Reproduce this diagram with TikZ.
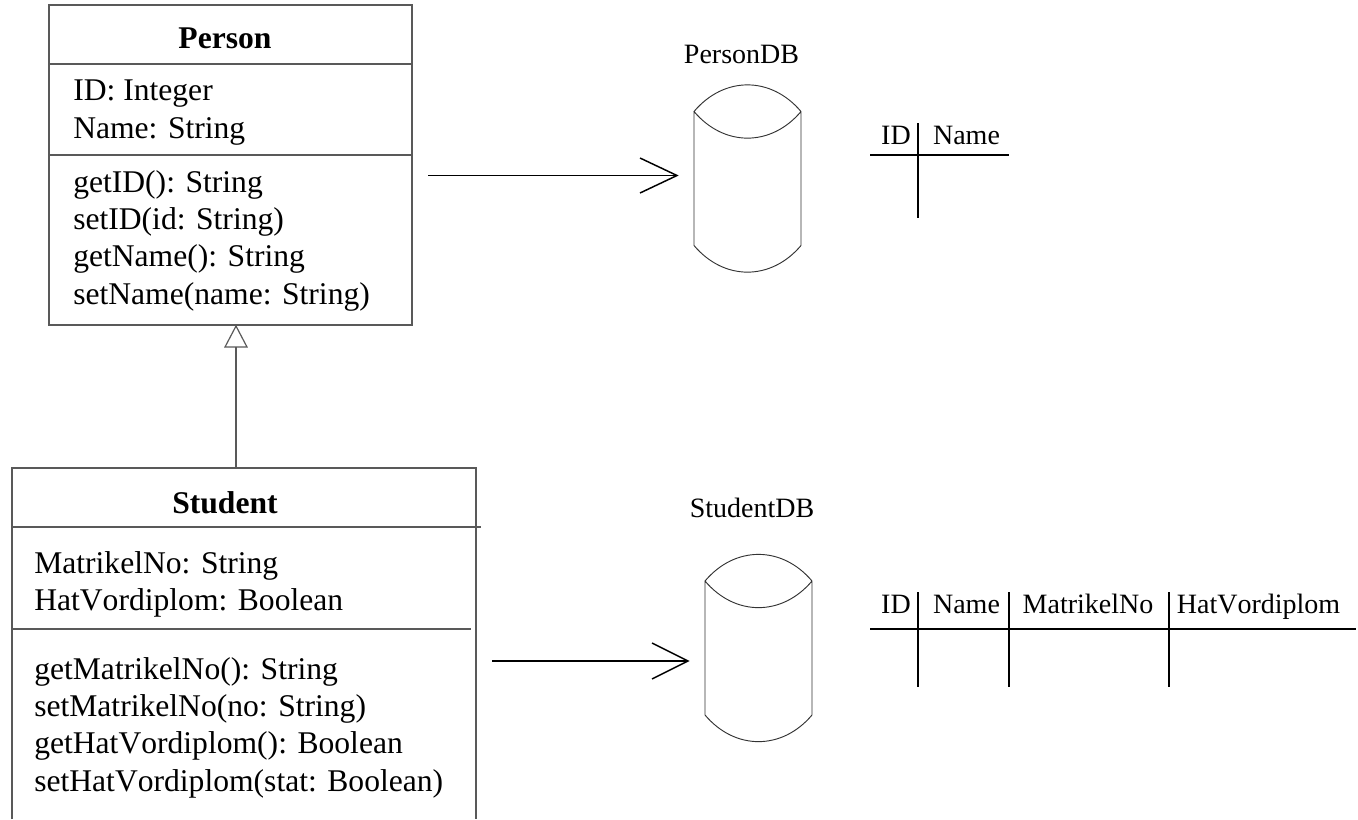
\documentclass[tikz,border=0pt]{standalone}
\usepackage{fontspec}
\setmainfont[Kerning=Off]{Liberation Serif}
\usetikzlibrary{positioning}
\tikzset{
  line/.style={draw=black!65,line width=0.9pt},
  head/.style={font=\fontsize{23.7}{28.5}\selectfont\bfseries,inner sep=0pt},
  members/.style={font=\fontsize{23.7}{28}\selectfont,align=left,anchor=north west,inner sep=0pt},
  label/.style={font=\fontsize{21}{25}\selectfont,inner sep=0pt,anchor=base},
  rule/.style={draw=black,line width=1.1pt},
  store/.style={draw=black!80,line width=0.7pt},
  flow/.style={draw=black,line width=1.1pt},
  point/.style={inner sep=0pt,minimum size=0pt}
}
\newcommand{\dbdrum}[3]{
  % x of the left side, y of the upper corners, name
  \draw[store] (#1,#2) -- (#1,#2+134)
    .. controls (#1+30,#2+169.5) and (#1+77,#2+169.5) .. (#1+107,#2+134)
    -- (#1+107,#2)
    .. controls (#1+77,#2-35.5) and (#1+30,#2-35.5) .. (#1,#2)
    .. controls (#1+30,#2+35.5) and (#1+77,#2+35.5) .. (#1+107,#2);
  \node[point] (#3) at (#1,#2+64) {};
}
\begin{document}
\begin{tikzpicture}[x=0.75pt,y=-0.75pt]
	\useasboundingbox (0,0) rectangle (1358,819);
	% Person class
	\draw[line] (49,5) rectangle (412,325);
	\draw[line] (49,64) -- (412,64);
	\draw[line] (49,155) -- (412,155);
	\node[head] (person) at (225,38) {Person};
	\node[members] (personattr) at (73,80) {ID: Integer\\Name: String};
	\node[members] (personops) at (73,170) {getID(): String\\setID(id: String)\\getName(): String\\setName(name: String)};
	% Student class
	\draw[line] (12,819) -- (12,468) -- (476,468) -- (476,819);
	\draw[line] (12,527) -- (481,527);
	\draw[line] (12,629) -- (471,629);
	\node[head] (student) at (225,503) {Student};
	\node[members] (studentattr) at (34,551) {MatrikelNo: String\\HatVordiplom: Boolean};
	\node[members] (studentops) at (34,657) {getMatrikelNo(): String\\setMatrikelNo(no: String)\\getHatVordiplom(): Boolean\\setHatVordiplom(stat: Boolean)};
	% inheritance
	\coordinate (subtop) at (236,468);
	\coordinate (suptip) at (236,326);
	\draw[line] (subtop) -- (236,347);
	\draw[line] (suptip) -- (225,347) -- (247,347) -- cycle;
	% databases
	\node[label] (persondb) at (741.5,63) {PersonDB};
	\dbdrum{694}{111.5}{persondrum}
	\node[label] (studentdb) at (752,517) {StudentDB};
	\dbdrum{705}{581}{studentdrum}
	% mappings
	\coordinate (personout) at (428,175.5);
	\coordinate (studentout) at (492,661);
	\draw[flow] (personout) -- (677,175.5);
	\draw[flow] (640,158) -- (677,175.5) -- (640,193);
	\draw[flow] (studentout) -- (688,661);
	\draw[flow] (652,643) -- (688,661) -- (652,679);
	% tables
	\node[label] (pid) at (896,144) {ID};
	\node[label] (pname) at (966.5,144) {Name};
	\draw[rule] (870,155) -- (1009,155);
	\draw[rule] (918,123) -- (918,218);
	\node[label] (sid) at (896,613) {ID};
	\node[label] (sname) at (966.5,613) {Name};
	\node[label] (smat) at (1088,613) {MatrikelNo};
	\node[label] (shat) at (1258.5,613) {HatVordiplom};
	\draw[rule] (870,629) -- (1356,629);
	\foreach \colx in {918,1009,1169}
	  \draw[rule] (\colx,592) -- (\colx,687);
\end{tikzpicture}
\end{document}
